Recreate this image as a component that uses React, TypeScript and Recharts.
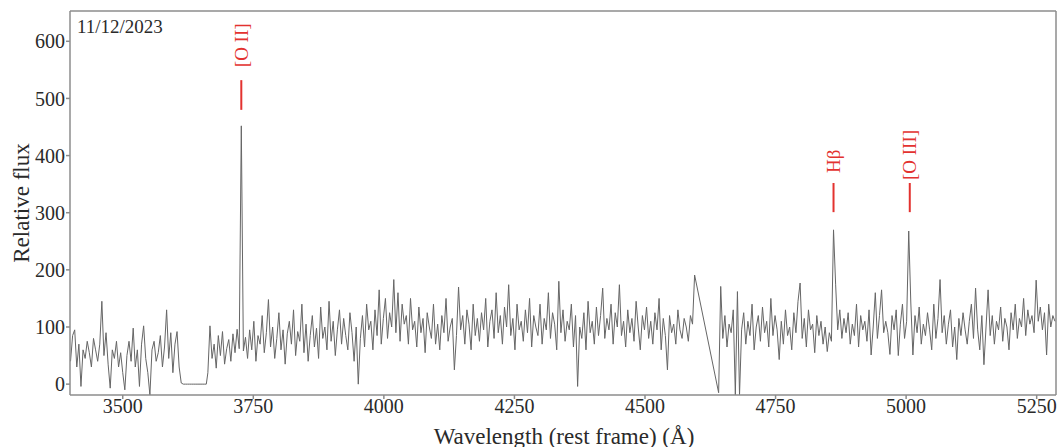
import React from 'react';
import { LineChart, Line, XAxis, YAxis, ReferenceLine, ReferenceDot } from 'recharts';

// Flux samples (relative flux), 4 Å spacing within each segment
const blueStart = 3400;
const blueFlux = [
  40, 85, 95, 30, 70, -4, 60, 45, 75, 55,
  30, 80, 60, 40, 70, 145, 50, 90, 35, -7,
  60, 45, 75, 30, 55, 20, -10, 50, 75, 40,
  98, 30, 60, -4, 70, 102, 45, 20, -19, 60,
  75, 40, 55, 85, 30, 65, 130, 45, 90, 20,
  70, 92, 30, 2,
];
const gapStart = 3616;
const gapFlux = [0, 0, 0, 0, 0, 0, 0, 0, 0, 0, 0, 0];
const midStart = 3663;
const midFlux = [
  20, 102, 45, 70, 28, 85, 50, 92, 35, 62,
  78, 40, 88, 55, 96, 62, 452, 58, 82, 45,
  95, 60, 110, 40, 85, 70, 120, 55, 90, 148,
  65, 100, 45, 80, 125, 60, 95, 35, 88, 110,
  70, 130, 50, 92, 75, 140, 55, 105, 40, 85,
  120, 65, 98, 45, 135, 80, 100, 60, 145, 75,
  110, 50, 95, 130, 70, 115, 85, 60, 125, 90,
  40, 100, 0, 80, 120, 65, 140, 95, 110, 60,
  130, 85, 165, 70, 115, 150, 80, 125, 100, 183,
  90, 160, 75, 140, 105, 120, 70, 150, 95, 110,
  65, 135, 90, 115, 55, 125, 100, 80, 140, 70,
  105, 60, 120, 90, 150, 75, 100, 115, 25, 85,
  170, 95, 120, 70, 130, 105, 60, 140, 85, 115,
  75, 125, 95, 150, 65, 110, 130, 80, 160, 90,
  120, 70, 135, 100, 174, 85, 115, 60, 140, 95,
  110, 75, 130, 90, 150, 65, 120, 100, 85, 140,
  70, 115, 95, 160, 80, 125, 105, 60, 180, 90,
  130, 75, 110, 95, 140, 65, 120, -4, 100, 80,
  125, 60, 145, 90, 110, 70, 135, 85, 120, 168,
  80, 115, 95, 140, 70, 125, 100, 174, 85, 110,
  65, 130, 90, 115, 75, 145, 100, 60, 120, 95,
  135, 80, 110, 70, 125, 95, 150, 60, 115, 85,
  25, 120, 90, 105, 70, 130, 95, 80, 115, 100,
  75, 120, 105, 191,
];
const redStart = 4641;
const redFlux = [
  -15, 171, 80, 120, 65, 105, 90, 130, -19, 162,
  -19, 95, 125, 70, 110, 85, 140, 60, 100, 120,
  75, 135, 90, 110, 65, 150, 85, 120, 95, 43,
  110, 70, 130, 85, 100, 60, 125, 90, 145, 177,
  80, 115, 65, 130, 95, 105, 55, 120, 85, 110,
  70, 100, 57, 90, 75, 270, 175, 95, 130, 80,
  115, 90, 125, 70, 105, 85, 140, 65, 120, 95,
  110, 75, 130, 51, 100, 160, 80, 120, 165, 90,
  110, 90, 52, 120, 95, 130, 50, 105, 140, 80,
  110, 268, 142, 51, 120, 90, 135, 70, 105, 85,
  125, 95, 60, 140, 80, 115, 183, 90, 120, 70,
  105, 130, 65, 100, 43, 115, 85, 125, 95, 70,
  110, 140, 80, 168, 95, 60, 120, 34, 100, 165,
  85, 120, 70, 110, 95, 135, 75, 115, 100, 60,
  125, 95, 140, 80, 115, 100, 150, 85, 130, 105,
  120, 90, 182, 110, 135, 95, 125, 51, 140, 100,
  120, 110,
];
const sampleStep = 4;

const xTicks = [3500, 3750, 4000, 4250, 4500, 4750, 5000, 5250];
const yTicks = [0, 100, 200, 300, 400, 500, 600];
const xDomain: [number, number] = [3399, 5287];
const yDomain: [number, number] = [-19, 653];

// Emission line annotations
const lineNames = ['[O II]', 'Hβ', '[O III]'];
const lineWavelengths = [3727, 4861, 5007];
const markerLow = [480, 301, 301];
const markerHigh = [532, 352, 352];
const labelCenter = [593, 390, 401];

const dateText = '11/12/2023';

const segments: [number, number[]][] = [
  [blueStart, blueFlux],
  [gapStart, gapFlux],
  [midStart, midFlux],
  [redStart, redFlux],
];
const data = segments.flatMap(([start, arr]) =>
  arr.map((f, i) => ({ w: start + i * sampleStep, f }))
);

const FONT = '"Liberation Serif", "DejaVu Serif", serif';
const RED = '#e3322f';
const AXIS = '#8c8c8c';
const TEXT = '#2a2a2a';

export default function App() {
  return (
    <div style={{ position: 'absolute', left: 0, top: 0, width: 1058, height: 447, background: '#fff' }}>
      <LineChart
        width={1058}
        height={447}
        data={data}
        margin={{ top: 11, right: 2, bottom: 0, left: 0 }}
      >
        <XAxis
          dataKey="w"
          type="number"
          domain={xDomain}
          ticks={xTicks}
          allowDataOverflow
          height={52}
          stroke={AXIS}
          strokeWidth={1.5}
          tickSize={4}
          tickMargin={0}
          tick={{ fill: TEXT, fontSize: 20, fontFamily: FONT }}
        />
        <YAxis
          type="number"
          domain={yDomain}
          ticks={yTicks}
          allowDataOverflow
          width={70}
          stroke={AXIS}
          strokeWidth={1.5}
          tickSize={4}
          tickMargin={1}
          tick={{ fill: TEXT, fontSize: 20, fontFamily: FONT }}
        />
        <ReferenceLine y={yDomain[1]} stroke={AXIS} strokeWidth={1.5} />
        <ReferenceLine x={xDomain[1]} stroke={AXIS} strokeWidth={1.5} />
        <Line
          dataKey="f"
          stroke="#666666"
          strokeWidth={1}
          dot={false}
          activeDot={false}
          isAnimationActive={false}
        />
        {lineNames.map((name, i) => (
          <ReferenceLine
            key={'seg' + name}
            segment={[
              { x: lineWavelengths[i], y: markerLow[i] },
              { x: lineWavelengths[i], y: markerHigh[i] },
            ]}
            stroke={RED}
            strokeWidth={2}
          />
        ))}
        {lineNames.map((name, i) => (
          <ReferenceDot
            key={'lab' + name}
            x={lineWavelengths[i]}
            y={labelCenter[i]}
            r={0}
            shape={(p: any) => (
              <text
                x={p.cx}
                y={p.cy}
                transform={`rotate(-90 ${p.cx} ${p.cy})`}
                textAnchor="middle"
                dominantBaseline="central"
                fill={RED}
                fontSize={19}
                fontFamily={FONT}
              >
                {name}
              </text>
            )}
          />
        ))}
        <text x={77} y={33} fill={TEXT} fontSize={19} fontFamily={FONT}>
          {dateText}
        </text>
        <text
          x={21}
          y={203}
          transform="rotate(-90 21 203)"
          textAnchor="middle"
          dominantBaseline="central"
          fill={TEXT}
          fontSize={23}
          fontFamily={FONT}
        >
          Relative flux
        </text>
        <text
          x={564}
          y={436}
          textAnchor="middle"
          dominantBaseline="central"
          fill={TEXT}
          fontSize={23}
          fontFamily={FONT}
        >
          Wavelength (rest frame) (Å)
        </text>
      </LineChart>
    </div>
  );
}
